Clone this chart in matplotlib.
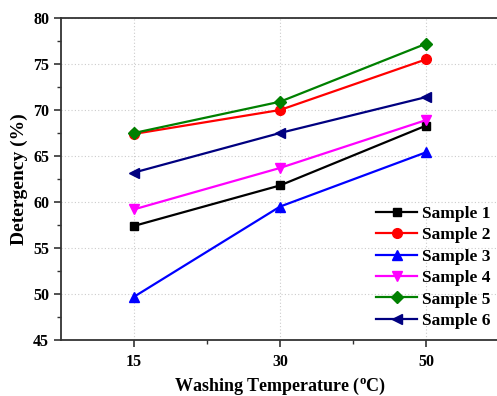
import matplotlib
matplotlib.use("Agg")
import matplotlib.pyplot as plt
from matplotlib.ticker import MultipleLocator, FixedLocator

categories = ["15", "30", "50"]
sample1 = [57.4, 61.8, 68.3]
sample2 = [67.4, 70.0, 75.5]
sample3 = [49.7, 59.5, 65.4]
sample4 = [59.2, 63.7, 68.9]
sample5 = [67.5, 70.9, 77.2]
sample6 = [63.2, 67.5, 71.4]
labels = ["Sample 1", "Sample 2", "Sample 3", "Sample 4", "Sample 5", "Sample 6"]

series = [sample1, sample2, sample3, sample4, sample5, sample6]
colors = ["#000000", "#ff0000", "#0000ff", "#ff00ff", "#008000", "#000080"]
markers = ["s", "o", "^", "v", "D", "<"]
msizes = [6, 7, 7, 7, 6, 7]

plt.rcParams["font.family"] = ["Liberation Serif", "DejaVu Serif"]
plt.rcParams["font.weight"] = "bold"
plt.rcParams["mathtext.fontset"] = "custom"
plt.rcParams["mathtext.rm"] = "Liberation Serif:bold"
plt.rcParams["mathtext.it"] = "Liberation Serif:bold"

fig = plt.figure(figsize=(4.97, 3.96), dpi=100)
ax = fig.add_axes([61/497, 56/396, 438/497, 322/396])

x = list(range(len(categories)))
for ys, c, m, ms, lab in zip(series, colors, markers, msizes, labels):
    ax.plot(x, ys, color=c, marker=m, markersize=ms, linewidth=1.6, label=lab)

ax.set_xlim(-0.5, 2.5)
ax.set_ylim(45, 80)
ax.set_xticks(x)
ax.set_xticklabels(categories)
ax.xaxis.set_minor_locator(FixedLocator([0.5, 1.5]))
ax.yaxis.set_major_locator(MultipleLocator(5))
ax.yaxis.set_minor_locator(MultipleLocator(2.5))

ax.grid(True, which="major", linestyle=(0, (1, 2)), color="#cccccc", linewidth=0.8)
ax.set_axisbelow(True)

for s in ["left", "bottom", "top"]:
    ax.spines[s].set_linewidth(1.3)
    ax.spines[s].set_color("#333333")
ax.spines["right"].set_visible(False)

ax.tick_params(axis="both", which="major", length=5, width=1.2, color="#333333",
               labelsize=11.5, direction="out", pad=3.5)
ax.tick_params(axis="both", which="minor", length=3, width=1.0, color="#333333", direction="out")
ax.tick_params(axis="x", pad=5)
for lbl in ax.get_xticklabels() + ax.get_yticklabels():
    lbl.set_fontweight("bold")

ax.set_xlabel(r"Washing Temperature ($^{\mathregular{o}}$C)", fontsize=13, fontweight="bold", labelpad=4)
ax.set_ylabel("Detergency (%)", fontsize=14, fontweight="bold", labelpad=4)

leg = ax.legend(loc="lower right", frameon=False, fontsize=12.5, handlelength=2.4,
                borderaxespad=0.0, labelspacing=0.3, handletextpad=0.25,
                bbox_to_anchor=(0.996, 0.013))
for t in leg.get_texts():
    t.set_fontweight("bold")

fig.savefig("out.png", dpi=100)
